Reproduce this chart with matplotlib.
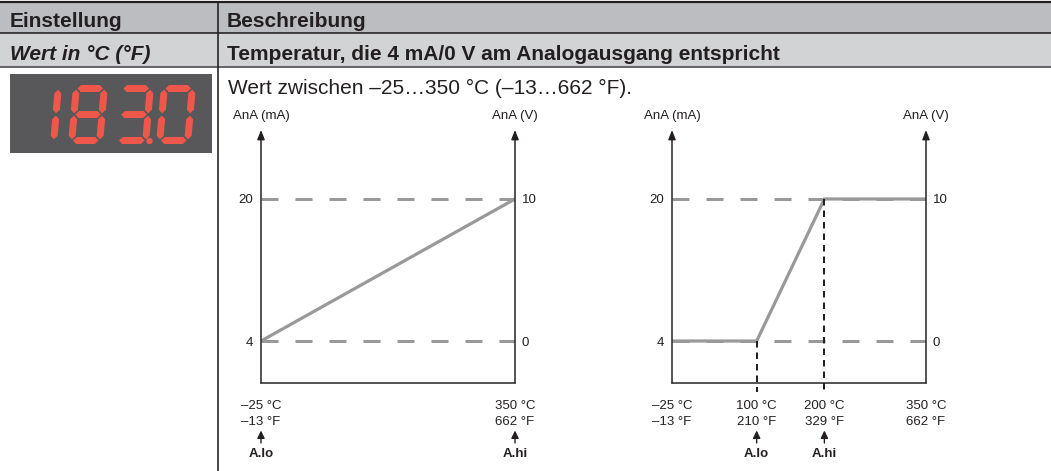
import matplotlib
matplotlib.use('Agg')
import numpy as np
import matplotlib.pyplot as plt
import matplotlib.transforms as mt
from matplotlib.patches import Polygon, Rectangle, Circle

# ---------------- data ----------------
header_cols = ["Einstellung", "Beschreibung"]
row_setting = "Wert in °C (°F)"
row_desc = "Temperatur, die 4 mA/0 V am Analogausgang entspricht"
range_text = "Wert zwischen –25…350 °C (–13…662 °F)."
display_value = "183.0"

ma_ticks = [4, 20]
v_ticks = [0, 10]
temp_limits = [-25, 350]

chart1_x = [-25, 350]
chart1_y = [4, 20]
chart1_c = [-25, 350]
chart1_f = [-13, 662]
chart1_set_pos = [-25, 350]
chart1_set_names = ["A.lo", "A.hi"]

chart2_x = [-25, 100, 200, 350]
chart2_y = [4, 4, 20, 20]
chart2_c = [-25, 100, 200, 350]
chart2_f = [-13, 210, 329, 662]
chart2_set_pos = [100, 200]
chart2_set_names = ["A.lo", "A.hi"]

# ---------------- style ----------------
plt.rcParams['font.family'] = ['Liberation Sans', 'DejaVu Sans']
plt.rcParams['lines.scale_dashes'] = False
TXT = '#231f20'
GRAY = '#999999'
RED = '#f0574b'
HDR_BG = '#bcbdc0'
ROW_BG = '#d1d3d4'
DISP_BG = '#58585a'

W, H = 1051, 471
PX = 0.72  # points per pixel
fig = plt.figure(figsize=(W / 100, H / 100), dpi=100)
bg = fig.add_axes([0, 0, 1, 1])
bg.set_xlim(0, W)
bg.set_ylim(H, 0)
bg.axis('off')

# table background and rules
bg.add_patch(Rectangle((0, 2), W, 31.3, color=HDR_BG, lw=0))
bg.add_patch(Rectangle((0, 33.3), W, 33.4, color=ROW_BG, lw=0))
bg.plot([0, W], [1.7, 1.7], color=TXT, lw=2.2 * PX, solid_capstyle='butt')
bg.plot([0, W], [33.3, 33.3], color=TXT, lw=1.6 * PX, solid_capstyle='butt')
bg.plot([0, W], [66.7, 66.7], color='#58585a', lw=1.8 * PX, solid_capstyle='butt')
bg.plot([218, 218], [1, H], color=TXT, lw=1.6 * PX, solid_capstyle='butt')

FS_BIG = 15
bg.text(10, 27.3, header_cols[0], fontsize=FS_BIG, fontweight='bold', va='baseline', color=TXT)
bg.text(227, 27.3, header_cols[1], fontsize=FS_BIG, fontweight='bold', va='baseline', color=TXT)
bg.text(10, 60.5, row_setting, fontsize=FS_BIG, fontweight='bold', fontstyle='italic',
        va='baseline', color=TXT)
bg.text(227, 60.5, row_desc, fontsize=FS_BIG, fontweight='bold', va='baseline', color=TXT)
bg.text(228, 93.5, range_text, fontsize=FS_BIG, va='baseline', color=TXT)

# ---------------- 7-segment display ----------------
bg.add_patch(Rectangle((10, 74), 202, 79, color=DISP_BG, lw=0))
SEGMENTS = {'0': 'abcdef', '1': 'bc', '2': 'abdeg', '3': 'abcdg', '4': 'bcfg',
            '5': 'acdfg', '6': 'acdefg', '7': 'abc', '8': 'abcdefg', '9': 'abcdfg'}


def draw_digit(ax, ch, left, top, w=35, h=59, t=7.0, g=1.2, slant=0.085):
    def hseg(yc):
        x0, x1 = t / 2 + g, w - t / 2 - g
        return [(x0, yc), (x0 + t / 2, yc - t / 2), (x1 - t / 2, yc - t / 2),
                (x1, yc), (x1 - t / 2, yc + t / 2), (x0 + t / 2, yc + t / 2)]

    def vseg(xc, y0, y1):
        return [(xc, y0), (xc + t / 2, y0 + t / 2), (xc + t / 2, y1 - t / 2),
                (xc, y1), (xc - t / 2, y1 - t / 2), (xc - t / 2, y0 + t / 2)]

    segs = {'a': hseg(t / 2), 'g': hseg(h / 2), 'd': hseg(h - t / 2),
            'f': vseg(t / 2, t / 2 + g, h / 2 - g), 'b': vseg(w - t / 2, t / 2 + g, h / 2 - g),
            'e': vseg(t / 2, h / 2 + g, h - t / 2 - g), 'c': vseg(w - t / 2, h / 2 + g, h - t / 2 - g)}
    for s in SEGMENTS[ch]:
        pts = [(left + x + slant * (h - y), top + y) for x, y in segs[s]]
        ax.add_patch(Polygon(pts, closed=True, color=RED, lw=0))


x_cell = 22
prev = None
for ch in display_value:
    if ch == '.':
        bg.add_patch(Circle((prev + 35.5, 141), 3.2, color=RED, lw=0))
        x_cell = prev + 42
        continue
    draw_digit(bg, ch, x_cell, 85)
    prev = x_cell
    x_cell += 46

# ---------------- charts ----------------
Y_LIM = (-0.73, 27.77)


def fmt(v):
    return str(v).replace('-', '–')


def ma_to_v(m):
    return (np.asarray(m) - 4) * 10 / 16


def v_to_ma(v):
    return np.asarray(v) * 16 / 10 + 4


def chart(left_px, xs, ys, cs, fs, set_pos, set_names, guides):
    ax = fig.add_axes([left_px / W, 1 - 383 / H, 254 / W, 253 / H])
    ax.patch.set_alpha(0)
    ax.set_xlim(*temp_limits)
    ax.set_ylim(*Y_LIM)
    for s in ['top', 'left', 'right']:
        ax.spines[s].set_visible(False)
    ax.spines['bottom'].set_linewidth(1.5 * PX)
    ax.spines['bottom'].set_color(TXT)
    ax.set_xticks([])
    ax.set_yticks(ma_ticks)
    ax.set_yticklabels([str(t) for t in ma_ticks])
    ax.tick_params(axis='y', length=0, pad=5.5, labelsize=9.5, labelcolor=TXT)

    sec = ax.secondary_yaxis('right', functions=(ma_to_v, v_to_ma))
    sec.set_yticks(v_ticks)
    sec.set_yticklabels([str(t) for t in v_ticks])
    sec.tick_params(length=0, pad=5.0, labelsize=9.5, labelcolor=TXT)
    sec.spines['right'].set_visible(False)

    for lvl in ma_ticks:
        ax.axhline(lvl, color=GRAY, lw=3.0 * PX, ls=(0, (17 * PX, 17 * PX)), zorder=2)
    ax.plot(xs, ys, color=GRAY, lw=3.2 * PX, solid_capstyle='butt',
            solid_joinstyle='miter', zorder=3)

    # vertical axes with arrows
    for xf in (0, 1):
        ax.annotate('', xy=(xf, 1), xytext=(xf, 0), xycoords='axes fraction',
                    arrowprops=dict(arrowstyle='-|>,head_length=0.55,head_width=0.22',
                                    lw=1.5 * PX, color=TXT, shrinkA=0, shrinkB=0,
                                    mutation_scale=10),
                    annotation_clip=False, zorder=5)
    ax.annotate('AnA (mA)', xy=(0, 1), xycoords='axes fraction', xytext=(0, 14 * PX),
                textcoords='offset points', ha='center', va='center', fontsize=9.5, color=TXT)
    ax.annotate('AnA (V)', xy=(1, 1), xycoords='axes fraction', xytext=(0, 14 * PX),
                textcoords='offset points', ha='center', va='center', fontsize=9.5, color=TXT)

    if guides:
        for p in set_pos:
            yv = np.interp(p, xs, ys)
            ax.plot([p, p], [yv, Y_LIM[0] - 1.0], color=TXT, lw=2.0 * PX,
                    ls=(0, (6.5 * PX, 5 * PX)), clip_on=False, zorder=4)

    tr = ('data', 'axes fraction')
    for c, f in zip(cs, fs):
        ax.annotate(f'{fmt(c)} °C', xy=(c, 0), xycoords=tr, xytext=(0, -23 * PX),
                    textcoords='offset points', ha='center', va='center', fontsize=9.5, color=TXT,
                    annotation_clip=False)
        ax.annotate(f'{fmt(f)} °F', xy=(c, 0), xycoords=tr, xytext=(0, -39 * PX),
                    textcoords='offset points', ha='center', va='center', fontsize=9.5, color=TXT,
                    annotation_clip=False)

    base = mt.blended_transform_factory(ax.transData, ax.transAxes)
    tip = mt.offset_copy(base, fig=fig, x=0, y=-47.5 * PX, units='points')
    tail = mt.offset_copy(base, fig=fig, x=0, y=-60 * PX, units='points')
    for p, name in zip(set_pos, set_names):
        ax.annotate('', xy=(p, 0), xycoords=tip, xytext=(p, 0), textcoords=tail,
                    arrowprops=dict(arrowstyle='-|>,head_length=0.45,head_width=0.22',
                                    lw=1.4 * PX, color=TXT, shrinkA=0, shrinkB=0,
                                    mutation_scale=10),
                    annotation_clip=False)
        ax.annotate(name, xy=(p, 0), xycoords=tr, xytext=(0, -71 * PX),
                    textcoords='offset points', ha='center', va='center', fontsize=9.5,
                    fontweight='bold', color=TXT, annotation_clip=False)
    return ax


chart(261, chart1_x, chart1_y, chart1_c, chart1_f, chart1_set_pos, chart1_set_names, False)
chart(672, chart2_x, chart2_y, chart2_c, chart2_f, chart2_set_pos, chart2_set_names, True)

fig.savefig('out.png', dpi=100)
